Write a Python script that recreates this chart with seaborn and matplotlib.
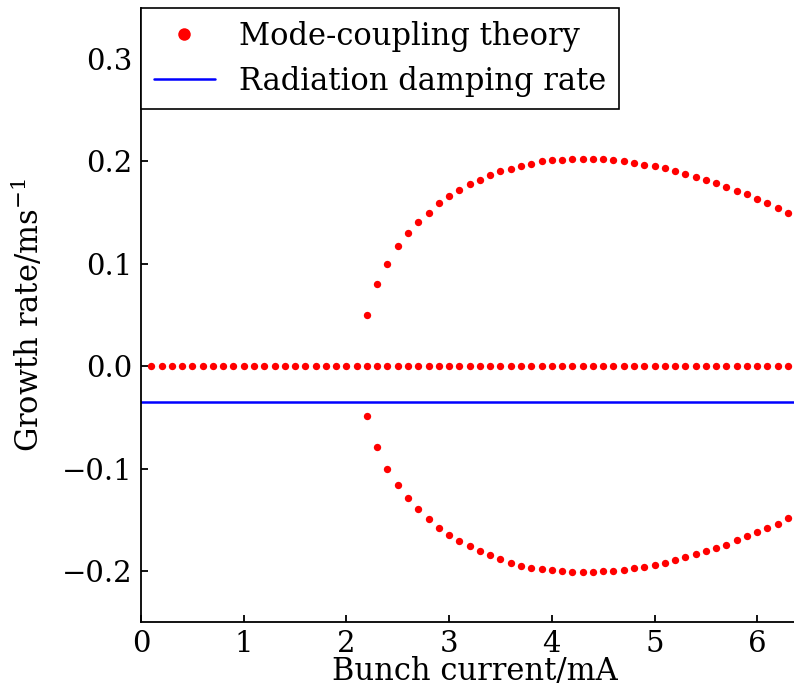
import matplotlib
matplotlib.use("Agg")
import matplotlib.pyplot as plt
import seaborn as sns
import pandas as pd
from matplotlib.lines import Line2D

# ---- data ----
zero_x = [0.1, 0.2, 0.3, 0.4, 0.5, 0.6, 0.7, 0.8, 0.9, 1.0, 1.1, 1.2, 1.3, 1.4, 1.5,
          1.6, 1.7, 1.8, 1.9, 2.0, 2.1, 2.2, 2.3, 2.4, 2.5, 2.6, 2.7, 2.8, 2.9, 3.0,
          3.1, 3.2, 3.3, 3.4, 3.5, 3.6, 3.7, 3.8, 3.9, 4.0, 4.1, 4.2, 4.3, 4.4, 4.5,
          4.6, 4.7, 4.8, 4.9, 5.0, 5.1, 5.2, 5.3, 5.4, 5.5, 5.6, 5.7, 5.8, 5.9, 6.0,
          6.1, 6.2, 6.3]
zero_y = [0.0] * len(zero_x)

branch_x = [2.2, 2.3, 2.4, 2.5, 2.6, 2.7, 2.8, 2.9, 3.0, 3.1, 3.2, 3.3, 3.4, 3.5,
            3.6, 3.7, 3.8, 3.9, 4.0, 4.1, 4.2, 4.3, 4.4, 4.5, 4.6, 4.7, 4.8, 4.9,
            5.0, 5.1, 5.2, 5.3, 5.4, 5.5, 5.6, 5.7, 5.8, 5.9, 6.0, 6.1, 6.2, 6.3]
upper_y = [0.050, 0.080, 0.100, 0.117, 0.130, 0.141, 0.150, 0.159, 0.166, 0.172,
           0.178, 0.182, 0.187, 0.191, 0.193, 0.196, 0.198, 0.200, 0.201, 0.2015,
           0.202, 0.2025, 0.2025, 0.202, 0.201, 0.200, 0.199, 0.197, 0.196, 0.194,
           0.191, 0.188, 0.185, 0.182, 0.179, 0.175, 0.171, 0.168, 0.163, 0.159,
           0.155, 0.150]
lower_y = [-0.049, -0.079, -0.100, -0.116, -0.129, -0.140, -0.149, -0.158, -0.165,
           -0.171, -0.176, -0.181, -0.185, -0.188, -0.192, -0.195, -0.197, -0.198,
           -0.1995, -0.2005, -0.2014, -0.2014, -0.2014, -0.2005, -0.2005, -0.1995,
           -0.197, -0.196, -0.194, -0.192, -0.189, -0.186, -0.184, -0.181, -0.178,
           -0.1745, -0.170, -0.166, -0.1625, -0.158, -0.154, -0.1485]

damping_rate = -0.035

x_ticks = [0, 1, 2, 3, 4, 5, 6]
y_ticks = [-0.2, -0.1, 0.0, 0.1, 0.2, 0.3]
y_ticklabels = ["\u22120.2", "\u22120.1", "0.0", "0.1", "0.2", "0.3"]

# ---- table ----
df = pd.DataFrame({
    "current": zero_x + branch_x + branch_x,
    "rate": zero_y + upper_y + lower_y,
})

sns.set_theme(style="white")
plt.rcParams["font.family"] = ["DejaVu Serif"]
plt.rcParams["mathtext.fontset"] = "dejavuserif"
plt.rcParams["text.color"] = "black"
plt.rcParams["axes.labelcolor"] = "black"
plt.rcParams["xtick.color"] = "black"
plt.rcParams["ytick.color"] = "black"

fig = plt.figure(figsize=(7.94, 6.91), dpi=100)
ax = fig.add_axes([141 / 794, 69 / 691, 1 - 141 / 794, (622 - 8) / 691])

sns.scatterplot(data=df, x="current", y="rate", ax=ax, color="red", s=28,
                linewidth=0, marker="o", legend=False, zorder=3)
ax.axhline(damping_rate, color="blue", lw=1.8, zorder=2)

ax.set_xlim(0, (794 - 141) / 102.7)
ax.set_ylim(-0.25, 0.35)
ax.set_xticks(x_ticks)
ax.set_yticks(y_ticks)
ax.set_yticklabels(y_ticklabels)
ax.tick_params(direction="in", length=5, width=1.3, labelsize=21,
               left=True, bottom=True, top=False, right=False, pad=6)

for side in ["top", "right"]:
    ax.spines[side].set_visible(False)
for side in ["left", "bottom"]:
    ax.spines[side].set_color("black")
    ax.spines[side].set_linewidth(1.3)

ax.set_xlabel("Bunch current/mA", fontsize=22)
ax.set_ylabel("Growth rate/$\\mathrm{ms}^{-1}$", fontsize=22)
ax.xaxis.set_label_coords(0.511, -0.055)
ax.yaxis.set_label_coords(-0.145, 0.5)

handles = [
    Line2D([], [], linestyle="none", marker="o", color="red", markersize=9,
           markeredgewidth=0),
    Line2D([], [], color="blue", lw=1.8),
]
leg = ax.legend(handles, ["Mode-coupling theory", "Radiation damping rate"],
                loc="upper left", bbox_to_anchor=(0, 1), borderaxespad=0,
                fontsize=22, fancybox=False, framealpha=1, edgecolor="black",
                handlelength=2.0, handletextpad=0.8, borderpad=0.42,
                labelspacing=0.45)
leg.get_frame().set_linewidth(1.2)

fig.savefig("out.png", dpi=100)
